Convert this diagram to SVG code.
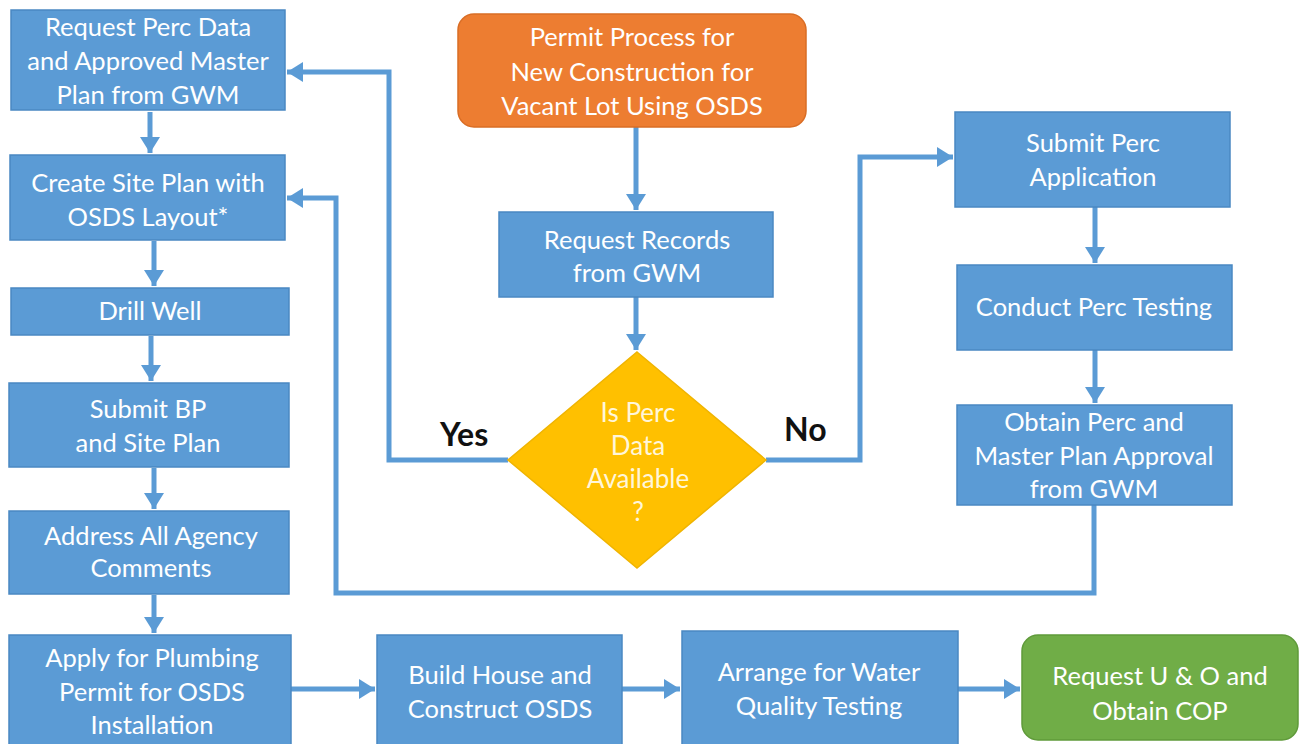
<svg xmlns="http://www.w3.org/2000/svg" width="1301" height="744" viewBox="0 0 1301 744">
<style>
.box{fill:#5B9BD5;stroke:#4A88C2;stroke-width:1.5}
.t{font-family:Lato,"Open Sans","Liberation Sans",sans-serif;font-size:25.5px;fill:#fff;text-anchor:middle}
.c{fill:none;stroke:#5B9BD5;stroke-width:5}
.lbl{font-family:Lato,"Liberation Sans",sans-serif;font-size:32px;font-weight:bold;fill:#111}
</style>
<defs>
<marker id="ah" markerUnits="userSpaceOnUse" markerWidth="20" markerHeight="22" refX="16" refY="11" orient="auto" viewBox="0 0 20 22">
<path d="M0,1 L16,11 L0,21 Z" fill="#5B9BD5"/>
</marker>
</defs>
<rect width="1301" height="744" fill="#fff"/>
<g id="connectors">
<path class="c" d="M636,127 V210" marker-end="url(#ah)"/>
<path class="c" d="M636,297 V350" marker-end="url(#ah)"/>
<path class="c" d="M508,460 H389 V72 H287" marker-end="url(#ah)"/>
<path class="c" d="M766,460 H860 V157 H953" marker-end="url(#ah)"/>
<path class="c" d="M1094,505 V593 H336 V198 H287" marker-end="url(#ah)"/>
<path class="c" d="M1095,207 V263" marker-end="url(#ah)"/>
<path class="c" d="M1095,350 V403" marker-end="url(#ah)"/>
<path class="c" d="M150,112 V153" marker-end="url(#ah)"/>
<path class="c" d="M154,241 V286" marker-end="url(#ah)"/>
<path class="c" d="M151,336 V381" marker-end="url(#ah)"/>
<path class="c" d="M154,468 V509" marker-end="url(#ah)"/>
<path class="c" d="M154,595 V633" marker-end="url(#ah)"/>
<path class="c" d="M291,689 H375" marker-end="url(#ah)"/>
<path class="c" d="M622,689 H680" marker-end="url(#ah)"/>
<path class="c" d="M958,689 H1020" marker-end="url(#ah)"/>
</g>
<g id="start">
<rect x="458" y="14" width="348" height="113" rx="16" fill="#ED7D31" stroke="#D96D25" stroke-width="1.5"/>
<text class="t"><tspan x="632" y="46">Permit Process for</tspan><tspan x="632" y="81">New Construction for</tspan><tspan x="632" y="115">Vacant Lot Using OSDS</tspan></text>
</g>
<g id="requestRecords">
<rect class="box" x="499" y="212" width="274" height="85"/>
<text class="t"><tspan x="637" y="249">Request Records</tspan><tspan x="637" y="282">from GWM</tspan></text>
</g>
<g id="decision">
<polygon points="637,352 766,460 637,568 508,460" fill="#FFC000" stroke="#F0B400" stroke-width="1.5"/>
<text class="t" style="fill:#FFF6DA;font-size:26px"><tspan x="638" y="422">Is Perc</tspan><tspan x="638" y="455">Data</tspan><tspan x="638" y="488">Available</tspan><tspan x="638" y="521">?</tspan></text>
</g>
<text class="lbl" x="440" y="446">Yes</text>
<text class="lbl" x="784" y="441">No</text>
<g id="requestPerc">
<rect class="box" x="11" y="10" width="274" height="100"/>
<text class="t"><tspan x="148" y="36">Request Perc Data</tspan><tspan x="148" y="70">and Approved Master</tspan><tspan x="148" y="104">Plan from GWM</tspan></text>
</g>
<g id="sitePlan">
<rect class="box" x="10" y="155" width="275" height="85"/>
<text class="t"><tspan x="148" y="192">Create Site Plan with</tspan><tspan x="148" y="226">OSDS Layout*</tspan></text>
</g>
<g id="drillWell">
<rect class="box" x="11" y="288" width="278" height="47"/>
<text class="t" x="150" y="320">Drill Well</text>
</g>
<g id="submitBP">
<rect class="box" x="9" y="383" width="280" height="84"/>
<text class="t"><tspan x="148" y="418">Submit BP</tspan><tspan x="148" y="452">and Site Plan</tspan></text>
</g>
<g id="address">
<rect class="box" x="9" y="511" width="280" height="83"/>
<text class="t"><tspan x="151" y="545">Address All Agency</tspan><tspan x="151" y="577">Comments</tspan></text>
</g>
<g id="plumbing">
<rect class="box" x="9" y="635" width="282" height="112"/>
<text class="t"><tspan x="152" y="667">Apply for Plumbing</tspan><tspan x="152" y="701">Permit for OSDS</tspan><tspan x="152" y="734">Installation</tspan></text>
</g>
<g id="build">
<rect class="box" x="377" y="635" width="245" height="112"/>
<text class="t"><tspan x="500" y="684">Build House and</tspan><tspan x="500" y="718">Construct OSDS</tspan></text>
</g>
<g id="water">
<rect class="box" x="682" y="631" width="276" height="116"/>
<text class="t"><tspan x="819" y="681">Arrange for Water</tspan><tspan x="819" y="715">Quality Testing</tspan></text>
</g>
<g id="final">
<rect x="1022" y="635" width="276" height="105" rx="16" fill="#70AD47" stroke="#5F9A3A" stroke-width="1.5"/>
<text class="t"><tspan x="1160" y="685">Request U &amp; O and</tspan><tspan x="1160" y="720">Obtain COP</tspan></text>
</g>
<g id="submitPerc">
<rect class="box" x="955" y="112" width="275" height="95"/>
<text class="t"><tspan x="1093" y="152">Submit Perc</tspan><tspan x="1093" y="186">Application</tspan></text>
</g>
<g id="conduct">
<rect class="box" x="957" y="265" width="275" height="85"/>
<text class="t" x="1094" y="316">Conduct Perc Testing</text>
</g>
<g id="obtain">
<rect class="box" x="957" y="405" width="275" height="100"/>
<text class="t"><tspan x="1094" y="431">Obtain Perc and</tspan><tspan x="1094" y="465">Master Plan Approval</tspan><tspan x="1094" y="498">from GWM</tspan></text>
</g>
</svg>
